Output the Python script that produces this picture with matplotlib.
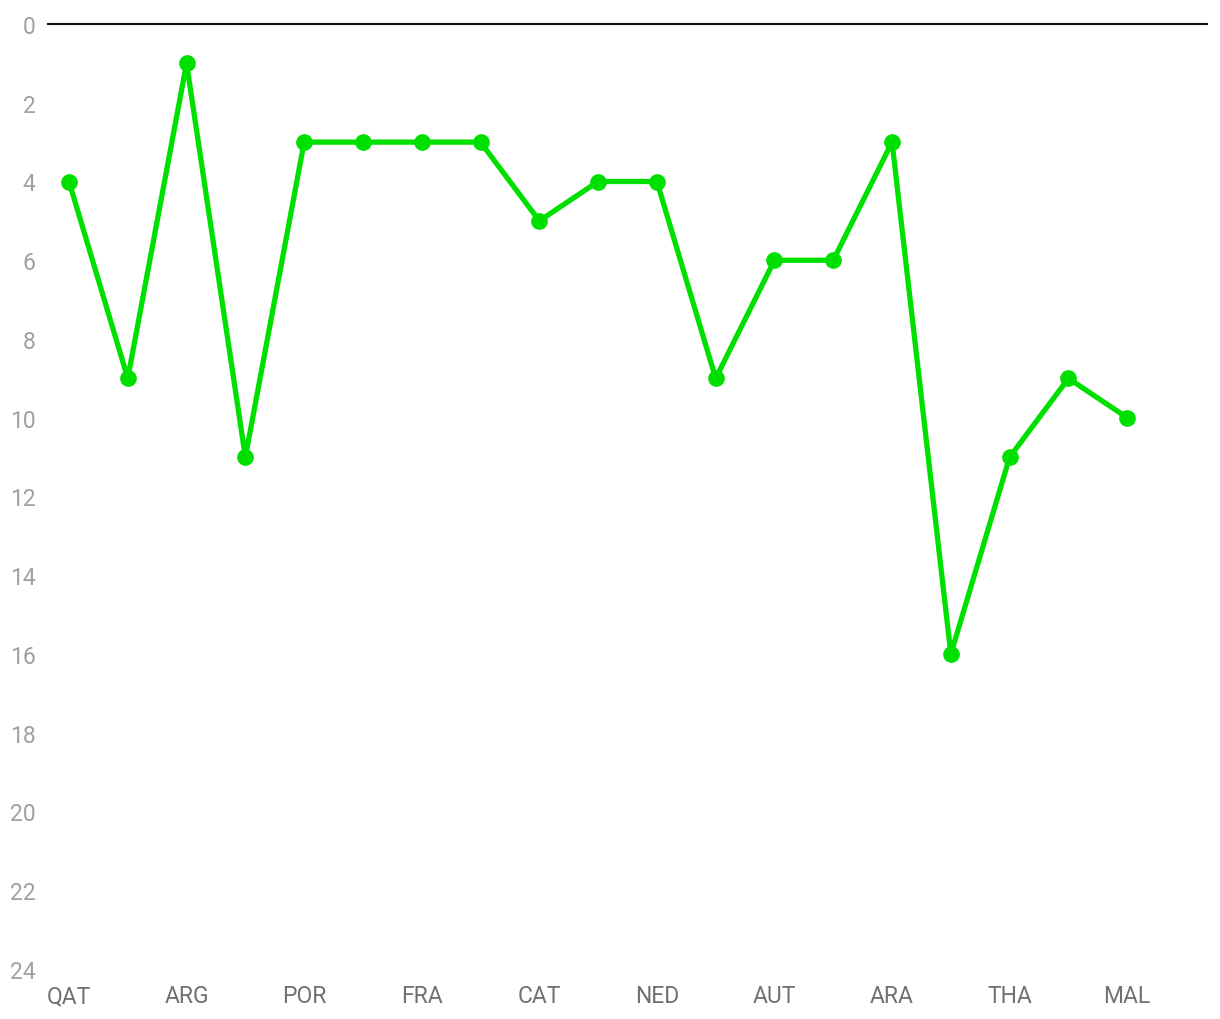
import matplotlib
matplotlib.use('Agg')
import matplotlib.pyplot as plt
import numpy as np

# ── data ──
races = ['QAT', 'INA', 'ARG', 'AME', 'POR', 'SPA', 'FRA', 'ITA', 'CAT', 'GER',
         'NED', 'GBR', 'AUT', 'RSM', 'ARA', 'JPN', 'THA', 'AUS', 'MAL', 'VAL']
positions = [4, 9, 1, 11, 3, 3, 3, 3, 5, 4,
             4, 9, 6, 6, 3, 16, 11, 9, 10, np.nan]
y_ticks = list(range(0, 25, 2))

GREEN = '#00e000'
plt.rcParams['font.family'] = ['Roboto', 'DejaVu Sans']

fig = plt.figure(figsize=(12.2, 10.2), dpi=100)
ax = fig.add_axes([48 / 1220, 50 / 1020, (1207 - 48) / 1220, (968 - 23) / 1020])

x = np.arange(len(races))
ax.plot(x, positions, color=GREEN, lw=3.8, marker='o', ms=11, zorder=3,
        solid_joinstyle='round')

ax.set_ylim(24, 0)
ax.set_xlim(-0.357, len(races) - 1 + 0.357)
ax.set_yticks(y_ticks)
ax.set_xticks(x[::2])
ax.set_xticklabels(races[::2])

for s in ('left', 'right', 'bottom'):
    ax.spines[s].set_visible(False)
ax.spines['top'].set_color('#111111')
ax.spines['top'].set_linewidth(1.5)

ax.tick_params(axis='both', length=0)
ax.tick_params(axis='y', labelsize=16.5, labelcolor='#a0a0a0', pad=9)
ax.tick_params(axis='x', labelsize=16.5, labelcolor='#707070', pad=11)

fig.savefig('out.png', dpi=100)
